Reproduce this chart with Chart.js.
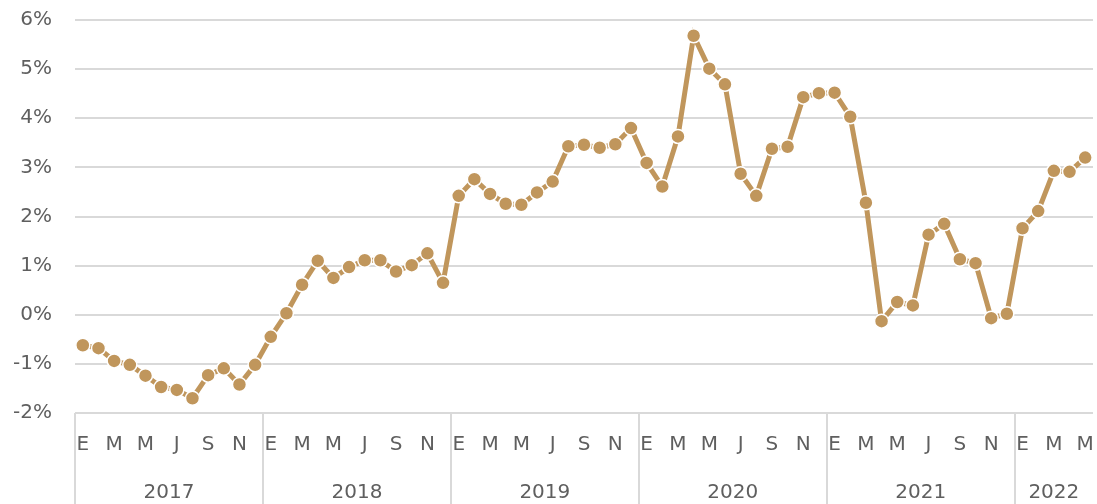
<!DOCTYPE html>
<html>
<head>
<meta charset="utf-8">
<script src="https://cdn.jsdelivr.net/npm/chart.js@4"></script>
<style>
  html, body { margin: 0; padding: 0; background: #fff; }
  #wrap { width: 1097px; height: 504px; position: relative; }
</style>
</head>
<body>
<div id="wrap"><canvas id="chart"></canvas></div>
<script>
// monthly series, Jan 2017 - May 2022 (percent)
const monthLetters = ['E','F','M','A','M','J','J','A','S','O','N','D'];
const years = ['2017','2018','2019','2020','2021','2022'];
const monthsPerYear = [12, 12, 12, 12, 12, 5];
const values = [
  -0.62, -0.68, -0.94, -1.02, -1.24, -1.47, -1.53, -1.70, -1.23, -1.09, -1.42, -1.02,
  -0.45, 0.03, 0.61, 1.10, 0.75, 0.97, 1.11, 1.11, 0.88, 1.01, 1.25, 0.65,
  2.42, 2.76, 2.46, 2.26, 2.24, 2.49, 2.71, 3.43, 3.46, 3.40, 3.47, 3.80,
  3.09, 2.61, 3.63, 5.68, 5.01, 4.69, 2.87, 2.42, 3.38, 3.42, 4.43, 4.51,
  4.52, 4.03, 2.28, -0.13, 0.26, 0.19, 1.63, 1.85, 1.13, 1.05, -0.07, 0.02,
  1.76, 2.11, 2.93, 2.91, 3.20
];
const yTicks = [-2, -1, 0, 1, 2, 3, 4, 5, 6];

const GOLD = '#C0965C';
const GRID = '#D9D9D9';
const TEXT = '#5f5f5f';
const FONT = { family: 'DejaVu Sans', size: 20 };

// build labels and year boundaries
const labels = [];
const yearStarts = [];
const yearMids = [];
let idx = 0;
years.forEach((y, i) => {
  yearStarts.push(idx);
  yearMids.push(idx + (monthsPerYear[i] - 1) / 2);
  for (let m = 0; m < monthsPerYear[i]; m++) labels.push(monthLetters[m]);
  idx += monthsPerYear[i];
});
yearStarts.push(idx);
const n = labels.length;

function noPad(s) {
  s.paddingTop = 0; s.paddingBottom = 0; s.paddingLeft = 0; s.paddingRight = 0;
}

new Chart(document.getElementById('chart'), {
  type: 'line',
  data: {
    labels,
    datasets: [{
      data: values,
      borderColor: GOLD,
      borderWidth: 5,
      pointBackgroundColor: GOLD,
      pointBorderColor: '#fff',
      pointBorderWidth: 1.5,
      pointRadius: 7,
      tension: 0,
      clip: false,
      xAxisID: 'x'
    }]
  },
  options: {
    responsive: true,
    maintainAspectRatio: false,
    animation: false,
    layout: { autoPadding: false, padding: { top: 20, right: 4, left: 0, bottom: 0 } },
    plugins: { legend: { display: false }, tooltip: { enabled: false } },
    scales: {
      y: {
        min: -2, max: 6,
        afterBuildTicks: s => { s.ticks = yTicks.map(v => ({ value: v })); },
        afterFit: s => { s.width = 75; noPad(s); },
        border: { display: false },
        grid: { color: GRID, lineWidth: 2, drawTicks: false },
        ticks: { color: TEXT, font: FONT, padding: 23, callback: v => v + '%' }
      },
      x: {
        type: 'category',
        offset: true,
        weight: 0,
        afterFit: s => { s.height = 53; noPad(s); },
        border: { display: false },
        grid: {
          offset: true,
          drawOnChartArea: false,
          drawTicks: true,
          tickLength: 91,
          lineWidth: 2,
          color: c => yearStarts.includes(c.index) ? GRID : 'rgba(0,0,0,0)'
        },
        ticks: {
          autoSkip: false,
          maxRotation: 0,
          color: TEXT,
          font: FONT,
          padding: -71,
          callback: (v, i) => i % 2 === 0 ? labels[i] : ''
        }
      },
      x2: {
        type: 'linear',
        position: 'bottom',
        weight: 1,
        min: -0.5, max: n - 0.5,
        afterBuildTicks: s => { s.ticks = yearMids.map(v => ({ value: v })); },
        afterFit: s => { s.height = 38; noPad(s); },
        border: { display: false },
        grid: { display: false },
        ticks: {
          color: TEXT,
          font: FONT,
          padding: 7,
          maxRotation: 0,
          callback: v => years[yearMids.indexOf(v)]
        }
      }
    }
  }
});
</script>
</body>
</html>
